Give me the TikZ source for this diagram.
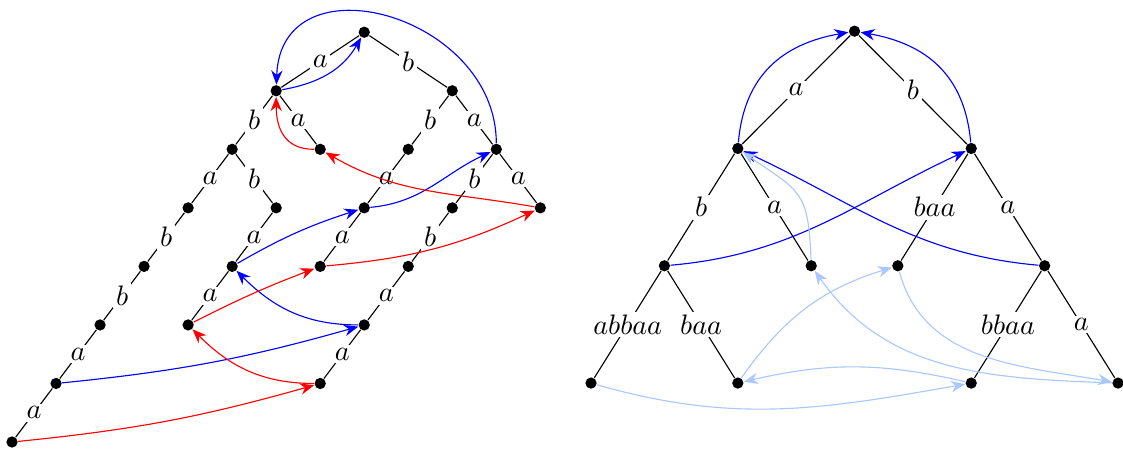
\documentclass[tikz,border=0pt]{standalone}
\usetikzlibrary{arrows.meta}
\definecolor{lightlink}{RGB}{170,200,255}
\tikzset{
  dot/.style={circle, fill=black, inner sep=0pt, minimum size=4pt},
  lbl/.style={fill=white, inner sep=1pt},
  link/.style={-{Stealth[length=5pt,width=4pt,inset=1.6pt]}},
}
\begin{document}
\begin{tikzpicture}
\useasboundingbox (0,0) rectangle (14.004,5.612);
\begin{scope}[shift={(0.15,0.1)}, x=0.549cm, y=0.730cm]
  \foreach \n/\x/\y in {e/8/7, a/6/6, b/10/6, ab/5/5, aa/7/5, bb/9/5, ba/11/5,
      aba/4/4, abb/6/4, bba/8/4, bab/10/4, baa/12/4, abab/3/3, abba/5/3, bbaa/7/3,
      babb/9/3, ababb/2/2, abbaa/4/2, babba/8/2, ababba/1/1, babbaa/7/1, ababbaa/0/0}
    \node[dot] (l-\n) at (\x,\y) {};
  \foreach \p/\c/\l in {e/a/a, e/b/b, a/ab/b, a/aa/a, b/bb/b, b/ba/a, ab/aba/a, ab/abb/b,
      bb/bba/a, ba/bab/b, ba/baa/a, aba/abab/b, abb/abba/a, bba/bbaa/a, bab/babb/b,
      abab/ababb/b, abba/abbaa/a, babb/babba/a, ababb/ababba/a, babba/babbaa/a,
      ababba/ababbaa/a}
    \draw (l-\p) -- node[lbl] {$\l$} (l-\c);
  \draw[link, blue] (l-a) to[out=10, in=-120] (l-e);
  \draw[link, blue] (l-ba) to[out=90, in=88, looseness=1.45] (l-a);
  \draw[link, blue] (l-bba) to[out=5, in=-155] (l-ba);
  \draw[link, blue] (l-abba) to[bend left=6] (l-bba);
  \draw[link, blue] (l-babba) to[out=180, in=-45] (l-abba);
  \draw[link, blue] (l-ababba) to[bend right=5] (l-babba);
  \draw[link, red] (l-aa) to[out=180, in=-90, looseness=1.2] (l-a);
  \draw[link, red] (l-baa) to[out=170, in=-30] (l-aa);
  \draw[link, red] (l-bbaa) to[out=5, in=-155] (l-baa);
  \draw[link, red] (l-abbaa) to[bend left=3] (l-bbaa);
  \draw[link, red] (l-babbaa) to[out=180, in=-45] (l-abbaa);
  \draw[link, red] (l-ababbaa) to[bend right=5] (l-babbaa);
\end{scope}
\begin{scope}[shift={(7.37,0.835)}, x=0.9153cm, y=1.4627cm]
  \foreach \n/\x/\y in {e/3.59/3, a/2/2, b/5.18/2, ab/1/1, aa/3/1, bbaa/4.18/1, ba/6.18/1,
      ababbaa/0/0, abbaa/2/0, babbaa/5.18/0, baa/7.18/0}
    \node[dot] (r-\n) at (\x,\y) {};
  \foreach \p/\c/\l in {e/a/a, e/b/b, a/ab/b, a/aa/a, b/bbaa/baa, b/ba/a,
      ab/ababbaa/abbaa, ab/abbaa/baa, ba/babbaa/bbaa, ba/baa/a}
    \draw (r-\p) -- node[lbl] {$\l$} (r-\c);
  \draw[link, blue] (r-a) to[out=85, in=190, looseness=1.1] (r-e);
  \draw[link, blue] (r-b) to[out=95, in=-10, looseness=1.1] (r-e);
  \draw[link, blue] (r-ab) to[out=5, in=-155] (r-b);
  \draw[link, blue] (r-ba) to[out=175, in=-25] (r-a);
  \draw[link, lightlink] (r-aa) to[out=92, in=-35, looseness=1.4] (r-a);
  \draw[link, lightlink] (r-baa) to[out=178, in=-55] (r-aa);
  \draw[link, lightlink] (r-ababbaa) to[out=-16, in=-170] (r-babbaa);
  \draw[link, lightlink] (r-babbaa) to[bend right=13] (r-abbaa);
  \draw[link, lightlink] (r-abbaa) to[out=55, in=-163] (r-bbaa);
  \draw[link, lightlink] (r-bbaa) to[out=-75, in=170] (r-baa);
\end{scope}
\end{tikzpicture}
\end{document}
